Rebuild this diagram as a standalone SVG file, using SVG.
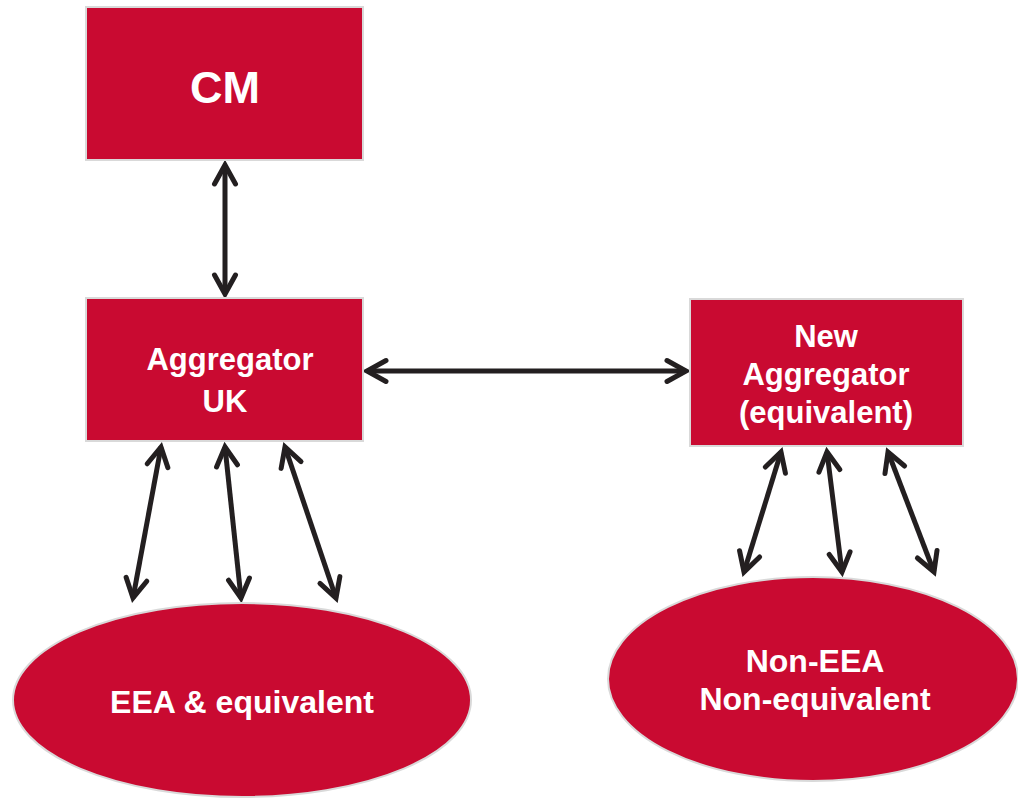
<svg xmlns="http://www.w3.org/2000/svg" width="1018" height="798" viewBox="0 0 1018 798">
<style>
.box{fill:#c90a31;stroke:#d9d9d9;stroke-width:2}
.lbl{font-family:"Liberation Sans",Arial,sans-serif;font-weight:bold;fill:#ffffff;text-anchor:middle;font-size:31px}
.big{font-size:32px}
.con{stroke:#231f20;stroke-width:5;fill:none;marker-start:url(#ah);marker-end:url(#ah)}
</style>
<defs>
<marker id="ah" markerUnits="userSpaceOnUse" orient="auto-start-reverse" markerWidth="30" markerHeight="30" refX="0" refY="0" viewBox="-25 -15 30 30" overflow="visible">
<path d="M -19 -10.5 L 0 0 L -19 10.5" fill="none" stroke="#231f20" stroke-width="5" stroke-linecap="round" stroke-linejoin="miter"/>
</marker>
</defs>
<rect width="1018" height="798" fill="#ffffff"/>
<g id="connectors">
<line class="con" x1="225" y1="165" x2="225" y2="294"/>
<line class="con" x1="367" y1="371" x2="686" y2="371"/>
<line class="con" x1="161" y1="447" x2="133" y2="598"/>
<line class="con" x1="225" y1="447" x2="241" y2="598"/>
<line class="con" x1="285" y1="447" x2="336" y2="598"/>
<line class="con" x1="781" y1="452" x2="744" y2="572"/>
<line class="con" x1="827" y1="452" x2="842" y2="572"/>
<line class="con" x1="888" y1="452" x2="934" y2="572"/>
</g>
<g id="cm">
<rect class="box" x="86" y="7" width="277" height="153"/>
<text class="lbl" x="225" y="103" style="font-size:45px">CM</text>
</g>
<g id="aggregator-uk">
<rect class="box" x="86" y="298" width="277" height="143"/>
<text class="lbl" x="230" y="370">Aggregator</text>
<text class="lbl" x="225" y="412">UK</text>
</g>
<g id="new-aggregator">
<rect class="box" x="690" y="299" width="273" height="147"/>
<text class="lbl" x="826" y="347">New</text>
<text class="lbl" x="826" y="385">Aggregator</text>
<text class="lbl" x="826" y="423">(equivalent)</text>
</g>
<g id="eea">
<ellipse class="box" cx="242" cy="700" rx="229" ry="97"/>
<text class="lbl big" x="242" y="713">EEA &amp; equivalent</text>
</g>
<g id="non-eea">
<ellipse class="box" cx="813" cy="679" rx="205" ry="102"/>
<text class="lbl big" x="815" y="672">Non-EEA</text>
<text class="lbl big" x="815" y="710">Non-equivalent</text>
</g>
</svg>
